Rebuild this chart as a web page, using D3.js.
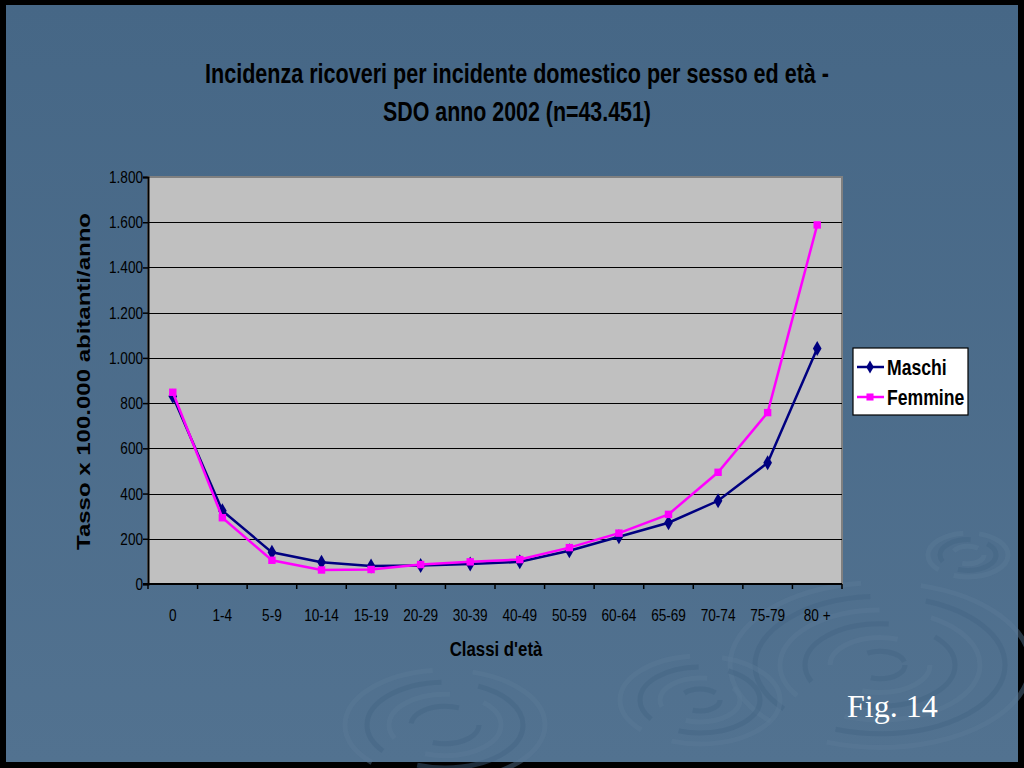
<!DOCTYPE html>
<html>
<head>
<meta charset="utf-8">
<script src="https://cdn.jsdelivr.net/npm/d3@7"></script>
<style>
  body { margin: 0; background: #000; }
  svg { display: block; }
</style>
</head>
<body>
<script>
var ageClasses = ["0", "1-4", "5-9", "10-14", "15-19", "20-29", "30-39", "40-49",
                  "50-59", "60-64", "65-69", "70-74", "75-79", "80 +"];
var maschi  = [830, 324, 140, 96, 80, 82, 88, 98, 147, 209, 271, 368, 536, 1042];
var femmine = [848, 293, 105, 62, 64, 86, 98, 108, 161, 225, 308, 494, 758, 1588];
var yTicks = [0, 200, 400, 600, 800, 1000, 1200, 1400, 1600, 1800];

var series = [
  { name: "Maschi", values: maschi, color: "#000080", symbol: d3.symbolDiamond },
  { name: "Femmine", values: femmine, color: "#ff00ff", symbol: d3.symbolSquare }
];

var W = 1024, H = 768;
var sans = "'Liberation Sans', Arial, sans-serif";
var squeeze = 0.8;   // no Arial Narrow here, so squash Arial horizontally

// text in a narrow face: a group scaled on x around the anchor point
function narrowText(parent, x, y, str, size, anchor, bold) {
  return parent.append("g")
      .attr("transform", "translate(" + x + "," + y + ") scale(" + squeeze + ",1)")
    .append("text")
      .attr("text-anchor", anchor || "start")
      .style("font-family", sans)
      .style("font-size", size + "px")
      .style("font-weight", bold ? "bold" : "normal")
      .attr("fill", "#000")
      .text(str);
}

var svg = d3.select("body").append("svg")
    .attr("width", W)
    .attr("height", H);

// slide background
var defs = svg.append("defs");
var grad = defs.append("linearGradient").attr("id", "bg")
    .attr("x1", 0).attr("y1", 0).attr("x2", 0).attr("y2", 1);
grad.append("stop").attr("offset", "0%").attr("stop-color", "#466786");
grad.append("stop").attr("offset", "100%").attr("stop-color", "#527290");

svg.append("rect").attr("width", W).attr("height", H).attr("fill", "#000");
svg.append("rect")
    .attr("x", 6).attr("y", 5)
    .attr("width", 1012).attr("height", 757)
    .attr("fill", "url(#bg)");

// faint ripples
var ripples = [
  { cx: 880, cy: 665, r: [150, 125, 100, 75, 50, 25] },
  { cx: 700, cy: 700, r: [80, 60, 40, 20] },
  { cx: 445, cy: 725, r: [100, 78, 56, 34] },
  { cx: 968, cy: 555, r: [40, 28, 16] }
];
var rip = svg.append("g").attr("fill", "none");
ripples.forEach(function(rp) {
  rip.selectAll(null).data(rp.r).enter().append("ellipse")
      .attr("cx", rp.cx).attr("cy", rp.cy)
      .attr("rx", function(d) { return d; })
      .attr("ry", function(d) { return d * 0.55; })
      .attr("stroke", function(d, i) { return i % 2 ? "#436483" : "#5b7a97"; })
      .attr("stroke-width", 5)
      .attr("stroke-dasharray", function(d, i) { return (d * 1.6) + " " + (d * 0.4 + i * 6); })
      .attr("opacity", 0.45);
});

// plot area
var plot = { left: 148, top: 177, right: 842, bottom: 584 };

var x = d3.scaleBand()
    .domain(ageClasses)
    .range([plot.left, plot.right]);

var y = d3.scaleLinear()
    .domain([0, 1800])
    .range([plot.bottom, plot.top]);

svg.append("rect")
    .attr("x", plot.left).attr("y", plot.top)
    .attr("width", plot.right - plot.left)
    .attr("height", plot.bottom - plot.top)
    .attr("fill", "#c0c0c0")
    .attr("stroke", "#808080")
    .attr("stroke-width", 2);

// gridlines
svg.append("g").selectAll("line")
    .data(yTicks.filter(function(d) { return d > 0 && d < 1800; }))
    .enter().append("line")
    .attr("x1", plot.left).attr("x2", plot.right)
    .attr("y1", function(d) { return Math.round(y(d)) + 0.5; })
    .attr("y2", function(d) { return Math.round(y(d)) + 0.5; })
    .attr("stroke", "#000")
    .attr("stroke-width", 1);

// y axis
var yAxis = svg.append("g")
    .attr("transform", "translate(" + plot.left + ",0)")
    .call(d3.axisLeft(y)
      .tickValues(yTicks)
      .tickSize(5)
      .tickFormat(""));
yAxis.select(".domain").attr("stroke", "#000").attr("stroke-width", 2);
yAxis.selectAll(".tick line").attr("stroke", "#000").attr("stroke-width", 1.5);
var yLab = svg.append("g");
yTicks.forEach(function(t) {
  narrowText(yLab, 143, y(t) + 6, d3.format(",")(t).replace(/,/g, "."), 17, "end");
});

// x axis: ticks at category boundaries, labels centered
var bounds = ageClasses.map(function(c) { return x(c); }).concat([plot.right]);
var xg = svg.append("g");
xg.append("line")
    .attr("x1", plot.left - 5).attr("x2", plot.right)
    .attr("y1", plot.bottom).attr("y2", plot.bottom)
    .attr("stroke", "#000").attr("stroke-width", 2);
xg.selectAll(".xt").data(bounds).enter().append("line")
    .attr("x1", function(d) { return d; }).attr("x2", function(d) { return d; })
    .attr("y1", plot.bottom).attr("y2", plot.bottom + 5)
    .attr("stroke", "#000").attr("stroke-width", 1.5);
ageClasses.forEach(function(c) {
  narrowText(xg, x(c) + x.bandwidth() / 2, 621, c, 17, "middle");
});

// lines and markers
var line = d3.line()
    .x(function(d, i) { return x(ageClasses[i]) + x.bandwidth() / 2; })
    .y(function(d) { return y(d); });

series.forEach(function(s) {
  svg.append("path")
      .attr("d", line(s.values))
      .attr("fill", "none")
      .attr("stroke", s.color)
      .attr("stroke-width", 2.5);
  svg.append("g").selectAll("path")
      .data(s.values)
      .enter().append("path")
      .attr("transform", function(d, i) {
        return "translate(" + (x(ageClasses[i]) + x.bandwidth() / 2) + "," + y(d) + ")";
      })
      .attr("d", d3.symbol().type(s.symbol).size(s.symbol === d3.symbolSquare ? 55 : 65))
      .attr("fill", s.color);
});

// title
var title = svg.append("text")
    .style("font-family", sans)
    .style("font-weight", "bold")
    .style("font-size", "28px")
    .attr("fill", "#000");
title.append("tspan").attr("x", 205).attr("y", 83)
    .attr("textLength", 624).attr("lengthAdjust", "spacingAndGlyphs")
    .text("Incidenza ricoveri per incidente domestico per sesso ed età -");
title.append("tspan").attr("x", 383).attr("y", 121)
    .attr("textLength", 268).attr("lengthAdjust", "spacingAndGlyphs")
    .text("SDO anno 2002 (n=43.451)");

// axis titles
svg.append("text")
    .attr("transform", "translate(90,550) rotate(-90)")
    .attr("textLength", 337).attr("lengthAdjust", "spacingAndGlyphs")
    .style("font-family", sans)
    .style("font-weight", "bold")
    .style("font-size", "18px")
    .text("Tasso x 100.000 abitanti/anno");

narrowText(svg, 496, 656, "Classi d'età", 21, "middle", true);

// legend
var leg = svg.append("g").attr("transform", "translate(853,348)");
leg.append("rect")
    .attr("width", 115).attr("height", 67)
    .attr("fill", "#fff")
    .attr("stroke", "#000")
    .attr("stroke-width", 1.2);
var li = leg.selectAll(".li").data(series).enter().append("g")
    .attr("transform", function(d, i) { return "translate(0," + (19 + i * 30) + ")"; });
li.append("line")
    .attr("x1", 4).attr("x2", 31)
    .attr("stroke", function(d) { return d.color; })
    .attr("stroke-width", 2.5);
li.append("path")
    .attr("transform", "translate(17,0)")
    .attr("d", function(d) { return d3.symbol().type(d.symbol).size(50)(); })
    .attr("fill", function(d) { return d.color; });
li.each(function(d) {
  narrowText(d3.select(this), 34, 8, d.name, 22, "start", true);
});

// figure label
svg.append("text")
    .attr("x", 847).attr("y", 717)
    .attr("fill", "#fff")
    .style("font-family", "'Liberation Serif', 'Times New Roman', serif")
    .style("font-size", "32px")
    .text("Fig. 14");
</script>
</body>
</html>
